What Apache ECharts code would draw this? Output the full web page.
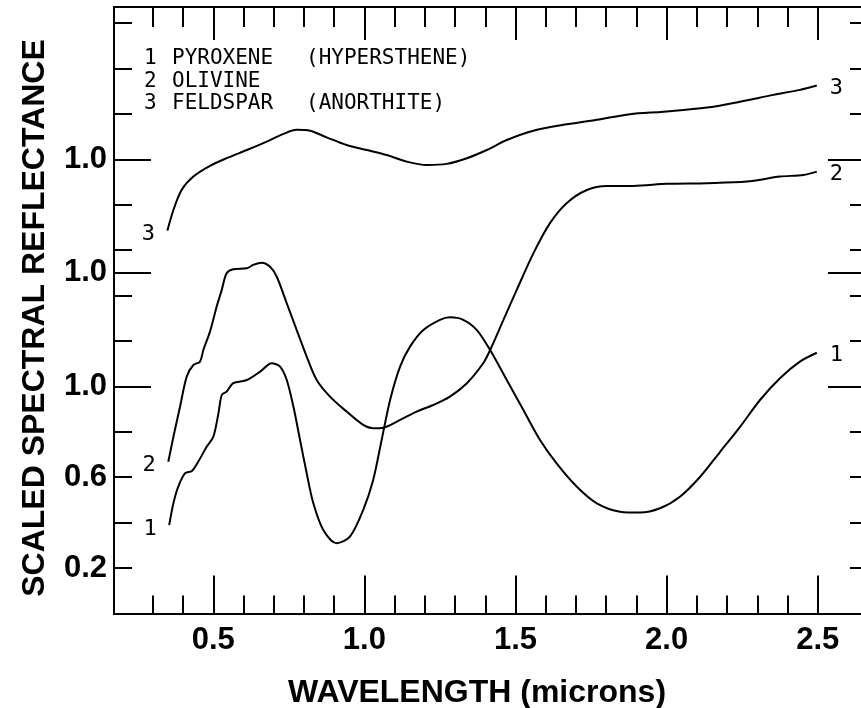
<!DOCTYPE html>
<html>
<head>
<meta charset="utf-8">
<script src="https://cdn.jsdelivr.net/npm/echarts@6/dist/echarts.min.js"></script>
<style>
html,body{margin:0;padding:0;background:#fff;}
#chart{width:861px;height:708px;}
</style>
</head>
<body>
<div id="chart"></div>
<script>
// ---- Data (plotted, offset-scaled reflectance vs wavelength in microns) ----
const pyroxeneWavelength = [0.354,0.368,0.384,0.406,0.429,0.450,0.478,0.500,0.517,0.528,0.544,0.566,0.611,0.655,0.693,0.721,0.743,0.765,0.787,0.809,0.831,0.864,0.908,0.952,0.996,1.029,1.057,1.085,1.118,1.151,1.195,1.250,1.283,1.327,1.372,1.416,1.471,1.526,1.581,1.636,1.703,1.769,1.846,1.912,1.978,2.044,2.111,2.177,2.243,2.309,2.375,2.441,2.497];
const pyroxeneReflectance = [0.389,0.485,0.558,0.617,0.627,0.668,0.734,0.778,0.881,0.962,0.977,1.014,1.028,1.065,1.102,1.087,1.028,0.911,0.764,0.617,0.485,0.367,0.309,0.338,0.456,0.588,0.764,0.940,1.087,1.175,1.248,1.293,1.304,1.293,1.248,1.160,1.028,0.896,0.764,0.661,0.558,0.485,0.448,0.444,0.463,0.514,0.602,0.712,0.822,0.940,1.036,1.109,1.148];

const olivineWavelength = [0.351,0.368,0.390,0.412,0.434,0.456,0.467,0.489,0.511,0.528,0.544,0.566,0.611,0.632,0.660,0.688,0.710,0.743,0.776,0.809,0.842,0.886,0.941,0.996,1.029,1.063,1.118,1.173,1.228,1.283,1.339,1.393,1.416,1.460,1.504,1.559,1.614,1.669,1.736,1.802,1.890,2.000,2.133,2.265,2.375,2.452,2.497];
const olivineReflectance = [0.668,0.778,0.911,1.043,1.094,1.109,1.160,1.241,1.351,1.425,1.498,1.516,1.520,1.535,1.545,1.527,1.483,1.366,1.248,1.131,1.028,0.955,0.889,0.830,0.815,0.818,0.852,0.889,0.918,0.955,1.014,1.102,1.160,1.293,1.425,1.586,1.719,1.807,1.865,1.883,1.883,1.892,1.895,1.902,1.924,1.931,1.946];

const feldsparWavelength = [0.348,0.368,0.395,0.434,0.489,0.544,0.611,0.677,0.732,0.776,0.820,0.875,0.941,1.008,1.074,1.140,1.206,1.272,1.339,1.405,1.471,1.559,1.658,1.769,1.879,1.989,2.133,2.243,2.353,2.441,2.497];
const feldsparReflectance = [1.686,1.777,1.865,1.924,1.971,2.005,2.041,2.078,2.112,2.130,2.126,2.097,2.063,2.041,2.019,1.990,1.975,1.980,2.005,2.041,2.085,2.126,2.152,2.174,2.199,2.210,2.228,2.254,2.284,2.306,2.325];

// ---- Curve identifiers and legend text ----
const curveNumbers = ["1", "2", "3"];
const mineralNames = ["PYROXENE", "OLIVINE", "FELDSPAR"];
const mineralVarieties = ["(HYPERSTHENE)", "", "(ANORTHITE)"];

// ---- Ticks and tick labels ----
const xMinorTicks = [0.3,0.4,0.5,0.6,0.7,0.8,0.9,1.0,1.1,1.2,1.3,1.4,1.5,1.6,1.7,1.8,1.9,2.0,2.1,2.2,2.3,2.4,2.5];
const xMajorTicks = [0.5,1.0,1.5,2.0,2.5];
const xTickLabels = ["0.5","1.0","1.5","2.0","2.5"];
const yMinorTicks = [0.2,0.4,0.6,0.8,1.0,1.2,1.4,1.5,1.6,1.8,2.0,2.2,2.4,2.6];
const yMajorTicks = [1.0,1.5,2.0];
const yLabelValues = [0.2,0.6,1.0,1.5,2.0];
const yTickLabels = ["0.2","0.6","1.0","1.0","1.0"];

const xTitle = "WAVELENGTH (microns)";
const yTitle = "SCALED SPECTRAL REFLECTANCE";

const X_MIN = 0.1714, X_MAX = 2.663, Y_MIN = 0, Y_MAX = 2.671;

function findLabel(values, labels, v) {
  const i = values.findIndex(t => Math.abs(t - v) < 1e-6);
  return i >= 0 ? labels[i] : '';
}

const BOLD = 'bold';
const SANS = '"Liberation Sans", Arial, sans-serif';
const MONO = '"DejaVu Sans Mono", monospace';

function xAxisDef(position, ticks, len, withLabels) {
  return {
    type: 'value', min: X_MIN, max: X_MAX, position: position,
    axisLine: { show: true, onZero: false, lineStyle: { color: '#000', width: 2 } },
    axisTick: { show: true, inside: true, length: len, customValues: ticks, lineStyle: { color: '#000', width: 2 } },
    axisLabel: withLabels ? {
      show: true, customValues: xMajorTicks, margin: 12,
      formatter: v => findLabel(xMajorTicks, xTickLabels, v),
      color: '#000', fontFamily: SANS, fontWeight: BOLD, fontSize: 31
    } : { show: false },
    splitLine: { show: false }
  };
}
function yAxisDef(position, ticks, len, withLabels) {
  return {
    type: 'value', min: Y_MIN, max: Y_MAX, position: position,
    axisLine: { show: true, onZero: false, lineStyle: { color: '#000', width: 2 } },
    axisTick: { show: true, inside: true, length: len, customValues: ticks, lineStyle: { color: '#000', width: 2 } },
    axisLabel: withLabels ? {
      show: true, customValues: yLabelValues, margin: 7,
      formatter: v => findLabel(yLabelValues, yTickLabels, v),
      color: '#000', fontFamily: SANS, fontWeight: BOLD, fontSize: 31,
      padding: [4, 0, 0, 0]
    } : { show: false },
    splitLine: { show: false }
  };
}

function makeSeries(xs, ys, num) {
  const data = xs.map((x, i) => {
    if (i === 0) {
      return {
        value: [x, ys[i]],
        label: { show: true, position: 'left', distance: 9, formatter: num, offset: [-3, 4],
                 fontFamily: MONO, fontSize: 22, color: '#000', opacity: 1 }
      };
    }
    return [x, ys[i]];
  });
  return {
    type: 'line', xAxisIndex: 0, yAxisIndex: 0, data: data,
    smooth: 0.3, showSymbol: true, showAllSymbol: true, symbol: 'circle', symbolSize: 1,
    itemStyle: { color: 'rgba(0,0,0,0)', borderWidth: 0 },
    lineStyle: { color: '#000', width: 2 },
    label: { show: false },
    endLabel: { show: true, formatter: num, distance: 10, fontFamily: MONO, fontSize: 22, color: '#000', offset: [3, 3] },
    silent: true, animation: false
  };
}

const legendRowsY = [60, 83, 105];
const graphics = [];
for (let i = 0; i < 3; i++) {
  const st = { fontFamily: MONO, fontSize: 21, fill: '#000', verticalAlign: 'middle', textAlign: 'left' };
  graphics.push({ type: 'text', left: 144, top: legendRowsY[i] - 12, style: Object.assign({ text: curveNumbers[i] }, st) });
  graphics.push({ type: 'text', left: 172, top: legendRowsY[i] - 12, style: Object.assign({ text: mineralNames[i] }, st) });
  if (mineralVarieties[i]) {
    graphics.push({ type: 'text', left: 306, top: legendRowsY[i] - 12, style: Object.assign({ text: mineralVarieties[i] }, st) });
  }
}
graphics.push({
  type: 'text', x: 35, y: 318, rotation: Math.PI / 2,
  style: { text: yTitle, fontFamily: SANS, fontWeight: BOLD, fontSize: 32, fill: '#000', textAlign: 'center', textVerticalAlign: 'middle', verticalAlign: 'middle', align: 'center' }
});
graphics.push({
  type: 'text', x: 477, y: 693,
  style: { text: xTitle, fontFamily: SANS, fontWeight: BOLD, fontSize: 32, fill: '#000', textAlign: 'center', textVerticalAlign: 'middle', verticalAlign: 'middle', align: 'center' }
});

const chart = echarts.init(document.getElementById('chart'), null, { renderer: 'canvas' });
chart.setOption({
  animation: false,
  backgroundColor: '#fff',
  grid: { left: 114, top: 7, width: 753, height: 606.4, containLabel: false, outerBoundsMode: 'none' },
  xAxis: [
    xAxisDef('bottom', xMinorTicks, 18, true),
    xAxisDef('bottom', xMajorTicks, 38, false),
    xAxisDef('top', xMinorTicks, 20, false),
    xAxisDef('top', xMajorTicks, 33, false)
  ],
  yAxis: [
    yAxisDef('left', yMinorTicks, 18, true),
    yAxisDef('left', yMajorTicks, 37, false),
    yAxisDef('right', yMinorTicks, 17, false),
    yAxisDef('right', yMajorTicks, 39, false)
  ],
  series: [
    makeSeries(pyroxeneWavelength, pyroxeneReflectance, curveNumbers[0]),
    makeSeries(olivineWavelength, olivineReflectance, curveNumbers[1]),
    makeSeries(feldsparWavelength, feldsparReflectance, curveNumbers[2])
  ],
  graphic: graphics
});
</script>
</body>
</html>
